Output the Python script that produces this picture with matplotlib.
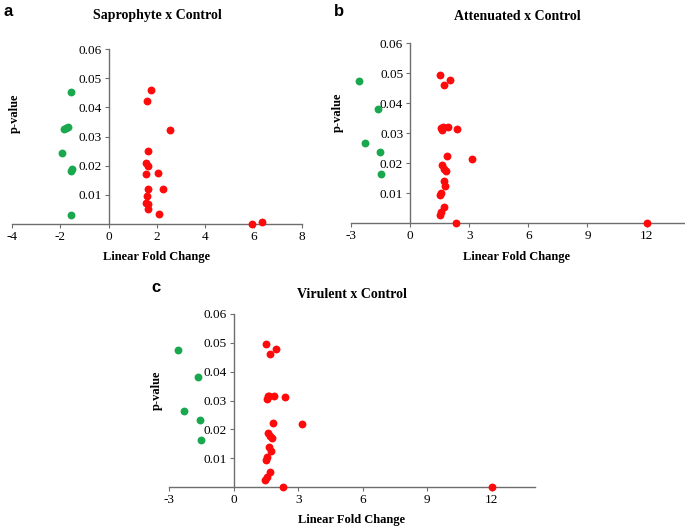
import matplotlib.pyplot as plt

# Panel a: Saprophyte x Control
sap_down_fc = [-1.54, -1.86, -1.76, -1.68, -1.92, -1.54, -1.50, -1.57]
sap_down_p = [0.0454, 0.0326, 0.0330, 0.0333, 0.0242, 0.0182, 0.0188, 0.0031]
sap_up_fc = [1.77, 1.59, 2.54, 1.61, 1.53, 1.61, 1.53, 2.03, 1.61, 2.26,
             1.59, 1.56, 1.61, 1.61, 2.08, 5.93, 6.36]
sap_up_p = [0.0461, 0.0421, 0.0321, 0.0251, 0.0208, 0.0199, 0.0170, 0.0174, 0.0120, 0.0119,
            0.0096, 0.0071, 0.0068, 0.0051, 0.0034, 0.0000, 0.0006]

# Panel b: Attenuated x Control
att_down_fc = [-2.60, -1.64, -2.29, -1.53, -1.50]
att_down_p = [0.0474, 0.0379, 0.0266, 0.0236, 0.0164]
att_up_fc = [1.53, 2.01, 1.70, 1.58, 1.65, 1.91, 1.60, 2.38, 1.85, 3.15, 1.60, 1.72,
             1.84, 1.70, 1.77, 1.57, 1.53, 1.74, 1.57, 1.50, 2.33, 12.0]
att_up_p = [0.0493, 0.0478, 0.0460, 0.0318, 0.0319, 0.0319, 0.0309, 0.0315, 0.0222, 0.0214,
            0.0192, 0.0181, 0.0172, 0.0139, 0.0122, 0.0101, 0.0093, 0.0053, 0.0037, 0.0027,
            0.0000, 0.0000]

# Panel c: Virulent x Control
vir_down_fc = [-2.60, -1.63, -2.31, -1.55, -1.52]
vir_down_p = [0.0474, 0.0381, 0.0263, 0.0234, 0.0163]
vir_up_fc = [1.51, 1.98, 1.69, 1.58, 1.65, 1.88, 1.55, 2.37, 1.83, 3.17, 1.60, 1.71,
             1.80, 1.66, 1.75, 1.54, 1.51, 1.71, 1.55, 1.46, 2.31, 12.0]
vir_up_p = [0.0496, 0.0479, 0.0463, 0.0316, 0.0317, 0.0317, 0.0305, 0.0313, 0.0221, 0.0218,
            0.0189, 0.0178, 0.0170, 0.0137, 0.0124, 0.0103, 0.0094, 0.0053, 0.0036, 0.0024,
            0.0000, 0.0000]

GREEN = '#1aa84f'
RED = '#ff0a0a'
AXCOL = '#6e6e6e'
SERIF = 'Liberation Serif'

W, H = 685, 527
fig = plt.figure(figsize=(W / 100, H / 100), dpi=100)


def px_axes(x0, x1, y_top, y_bot):
    return fig.add_axes([x0 / W, 1 - y_bot / H, (x1 - x0) / W, (y_bot - y_top) / H])


def panel(ax, down_fc, down_p, up_fc, up_p, xlim, xticks):
    ax.scatter(down_fc, down_p, s=32, color=GREEN, zorder=3, clip_on=False, linewidths=0)
    ax.scatter(up_fc, up_p, s=32, color=RED, zorder=3, clip_on=False, linewidths=0)
    ax.set_xlim(*xlim)
    ax.set_ylim(0, 0.06)
    ax.spines['left'].set_position(('data', 0))
    ax.spines['bottom'].set_position(('data', 0))
    for s in ('top', 'right'):
        ax.spines[s].set_visible(False)
    for s in ('left', 'bottom'):
        ax.spines[s].set_color(AXCOL)
        ax.spines[s].set_linewidth(1.0)
    ax.set_xticks(xticks)
    ax.set_xticklabels([str(t) for t in xticks])
    yt = [0.01, 0.02, 0.03, 0.04, 0.05, 0.06]
    ax.set_yticks(yt)
    ax.set_yticklabels([f'{v:.2f}' for v in yt])
    ax.tick_params(direction='out', length=3, width=0.8, color=AXCOL, labelsize=9.5, pad=2)
    for lab in ax.get_xticklabels() + ax.get_yticklabels():
        lab.set_fontfamily(SERIF)
    ax.patch.set_visible(False)


ax_a = px_axes(12, 302, 49, 224)
panel(ax_a, sap_down_fc, sap_down_p, sap_up_fc, sap_up_p, (-4, 8), [-4, -2, 0, 2, 4, 6, 8])

ax_b = px_axes(351, 686, 43, 223)
panel(ax_b, att_down_fc, att_down_p, att_up_fc, att_up_p, (-3, 14), [-3, 0, 3, 6, 9, 12])

ax_c = px_axes(169, 535, 314, 487)
panel(ax_c, vir_down_fc, vir_down_p, vir_up_fc, vir_up_p, (-3, 14), [-3, 0, 3, 6, 9, 12])

titles = [('Saprophyte x Control', 157, 16), ('Attenuated x Control', 517, 16),
          ('Virulent x Control', 352, 294)]
for txt, x, y in titles:
    fig.text(x / W, 1 - y / H, txt, ha='center', va='center', fontsize=10,
             fontweight='bold', fontfamily=SERIF)

xlabels = [(157, 257), (517, 257), (352, 520)]
for x, y in xlabels:
    fig.text(x / W, 1 - y / H, 'Linear Fold Change', ha='center', va='center',
             fontsize=9, fontweight='bold', fontfamily=SERIF)

ylabels = [(15, 113), (338, 112), (157, 390)]
for x, y in ylabels:
    fig.text(x / W, 1 - y / H, 'p-value', ha='center', va='center', rotation=90,
             fontsize=9, fontweight='bold', fontfamily=SERIF)

letters = [('a', 8, 12), ('b', 339, 12), ('c', 156, 288)]
for txt, x, y in letters:
    fig.text(x / W, 1 - y / H, txt, ha='center', va='center', fontsize=12,
             fontweight='bold', fontfamily='Liberation Sans')

fig.savefig('out.png', dpi=100)
